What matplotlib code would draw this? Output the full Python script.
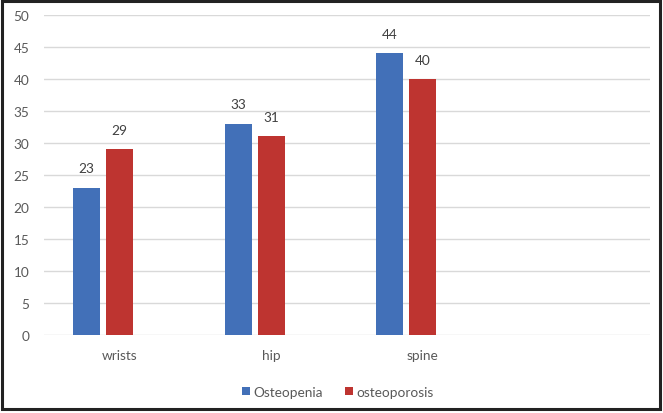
import numpy as np
import matplotlib
matplotlib.use("Agg")
import matplotlib.pyplot as plt
from matplotlib.patches import Rectangle

plt.rcParams['font.family'] = ['Lato', 'DejaVu Sans']

# data
categories = ["wrists", "hip", "spine", ""]
osteopenia = [23, 33, 44, np.nan]
osteoporosis = [29, 31, 40, np.nan]
series_names = ["Osteopenia", "osteoporosis"]
yticks = list(range(0, 55, 5))

blue = "#4270B8"
red = "#BE3430"
txt = "#595959"
fs = 9.8

fig = plt.figure(figsize=(6.63, 4.14), dpi=100)
ax = fig.add_axes([44 / 663, (414 - 335.7) / 414, 606 / 663, 320 / 414])

x = np.arange(len(categories))
w = 0.178
step = 0.218
b1 = ax.bar(x - step, osteopenia, w, color=blue, label=series_names[0], zorder=3)
b2 = ax.bar(x, osteoporosis, w, color=red, label=series_names[1], zorder=3)

for bars, vals in ((b1, osteopenia), (b2, osteoporosis)):
    for r, v in zip(bars, vals):
        if np.isnan(v):
            continue
        ax.annotate(str(int(v)), (r.get_x() + r.get_width() / 2, v),
                    xytext=(0, 9.5), textcoords="offset points",
                    ha="center", va="bottom", fontsize=fs, color="#404040")

ax.set_xlim(-0.5, len(categories) - 0.5)
ax.set_ylim(0, 50)
ax.set_yticks(yticks)
ax.set_xticks(x)
ax.set_xticklabels(categories)
ax.yaxis.grid(True, color="#D9D9D9", linewidth=1)
ax.set_axisbelow(True)
for s in ax.spines.values():
    s.set_visible(False)
ax.tick_params(axis="both", length=0, labelsize=fs, labelcolor=txt)
ax.tick_params(axis="y", pad=10.5)
ax.tick_params(axis="x", pad=10)

fig.legend(handles=[b1, b2], labels=series_names, loc="center",
           bbox_to_anchor=(338 / 663, 1 - 393 / 414), ncol=2, frameon=False,
           fontsize=fs, handlelength=0.55, handleheight=0.55, handletextpad=0.3,
           columnspacing=1.6, labelcolor=txt)

fig.patches.append(Rectangle((2 / 663, 4 / 414), 658 / 663, 408 / 414,
                             transform=fig.transFigure, fill=False,
                             edgecolor="#222222", linewidth=2.2))

fig.savefig("out.png", dpi=100)
